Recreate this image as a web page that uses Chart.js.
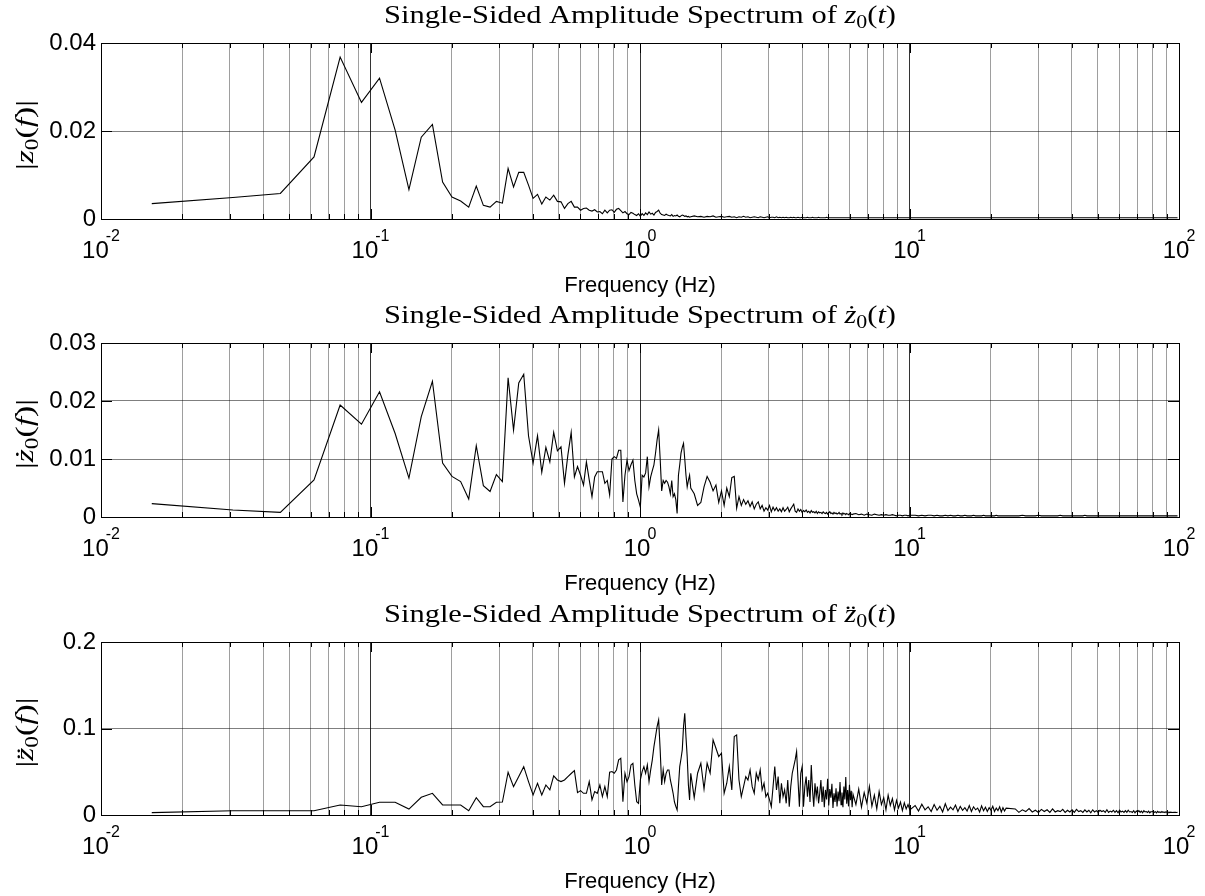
<!DOCTYPE html>
<html>
<head>
<meta charset="utf-8">
<script src="https://cdn.jsdelivr.net/npm/chart.js@4.4.0/dist/chart.umd.min.js"></script>
<style>
  html, body { margin: 0; padding: 0; background: #fff; }
  .panel { position: absolute; left: 0; width: 1205px; height: 299px; }
</style>
</head>
<body>
<div class="panel" style="top:0px"><canvas id="spec0" width="1205" height="299"></canvas></div>
<div class="panel" style="top:299px"><canvas id="spec1" width="1205" height="299"></canvas></div>
<div class="panel" style="top:598px"><canvas id="spec2" width="1205" height="299"></canvas></div>
<script>
// FFT bin width in Hz; frequency of bin k is k*df
const df = 0.01543;
// blocks of bins: [first bin, bin step]; each amplitude array below has one list per block
const binBlocks = [[1, 1], [103, 3], [410, 10], [680, 20], [1600, 50]];

// amplitudes, in units of 1e-4
const zAmp = [
  [35, 49, 58, 141, 368, 265, 320, 202, 67, 186,
   215, 84, 50, 41, 27, 75, 31, 27, 40, 36,
   115, 73, 106, 106, 77, 47, 56, 34, 50, 43,
   54, 40, 39, 24, 35, 40, 27, 27, 20, 24,
   25, 20, 18, 21, 16, 17, 12, 20, 14, 20,
   21, 15, 22, 24, 19, 14, 17, 12, 10, 15,
   13, 10, 8, 12, 6, 12, 8, 14, 10, 16,
   11, 13, 9, 15, 17, 20, 13, 10, 9, 8,
   11, 9, 8, 7, 10, 6, 8, 7, 9, 6,
   5, 7, 9, 8, 6, 7, 5, 6, 4, 5],
  [7, 5, 6, 4, 6, 5, 7, 4, 5, 6,
   4, 5, 6, 4, 5, 3, 5, 4, 6, 4,
   5, 3, 4, 5, 4, 3, 5, 4, 3, 4,
   5, 3, 4, 4, 3, 5, 3, 4, 3, 4,
   3, 4, 3, 3, 4, 3, 4, 3, 3, 4,
   3, 3, 4, 3, 3, 3, 4, 3, 3, 3,
   4, 3, 3, 3, 3, 4, 3, 3, 3, 3,
   3, 3, 4, 3, 3, 3, 3, 3, 3, 3,
   3, 3, 3, 3, 3, 3, 3, 3, 3, 3,
   3, 3, 3, 3, 3, 3, 3, 3, 3, 3],
  [3, 3, 3, 3, 3, 3, 3, 3, 3, 3, 3, 3, 3, 3, 3, 3, 3, 3, 3, 3, 3, 3, 3, 3, 3],
  [3, 3, 3, 3, 3, 3, 3, 3, 3, 3, 3, 3, 3, 3, 3, 3, 3, 3, 3, 3,
   3, 3, 3, 3, 3, 3, 3, 3, 3, 3, 3, 3, 3, 3, 3, 3, 3, 3, 3, 3, 3],
  [3, 3, 3, 3, 3, 3, 3, 3, 3, 3, 3, 3, 3, 3, 3, 3, 3, 3, 3, 3,
   3, 3, 3, 3, 3, 3, 3, 3, 3, 3, 3, 3, 3, 3, 3, 3, 3, 3, 3, 3,
   3, 3, 3, 3, 3, 3, 3, 3, 3, 3, 3, 3, 3, 3, 3, 3, 3, 3, 3, 3,
   3, 3, 3, 3, 3, 3, 3, 3, 3, 3, 3, 3, 3, 3, 3, 3, 3, 3, 3, 3,
   3, 3, 3, 3, 3, 3, 3, 3, 3, 3, 3, 3, 3, 3, 3, 3, 3]
];

const zdAmp = [
  [23, 12, 8, 64, 193, 160, 216, 144, 67, 173,
   234, 93, 70, 61, 31, 123, 54, 44, 73, 61,
   240, 150, 231, 246, 140, 93, 140, 77, 120, 95,
   146, 114, 121, 58, 107, 146, 69, 87, 72, 55,
   95, 64, 35, 69, 78, 78, 78, 58, 63, 38,
   100, 104, 101, 115, 115, 26, 72, 98, 80, 90,
   98, 63, 40, 29, 17, 72, 69, 76, 104, 52,
   69, 80, 90, 110, 133, 150, 100, 45, 63, 58,
   63, 60, 52, 40, 63, 35, 40, 30, 6, 72,
   90, 110, 120, 127, 100, 72, 52, 63, 72, 50],
  [40, 20, 25, 52, 70, 60, 45, 55, 25, 45,
   20, 50, 35, 68, 70, 15, 35, 20, 30, 22,
   28, 18, 26, 14, 22, 26, 14, 20, 10, 16,
   12, 20, 9, 17, 11, 16, 10, 14, 9, 16,
   10, 13, 17, 9, 14, 18, 22, 10, 8, 14,
   10, 13, 8, 11, 9, 12, 8, 10, 7, 11,
   8, 9, 7, 10, 6, 9, 7, 8, 6, 9,
   7, 6, 8, 5, 7, 9, 6, 7, 5, 8,
   6, 7, 5, 6, 8, 5, 6, 4, 7, 5,
   6, 4, 6, 5, 4, 6, 4, 5, 4, 5],
  [6, 4, 5, 3, 5, 4, 3, 5, 4, 3, 4, 3, 4, 3, 3, 4, 3, 2, 3, 3, 2, 3, 3, 2, 3],
  [3, 2, 3, 2, 3, 3, 2, 3, 2, 2, 3, 2, 3, 2, 2, 3, 2, 2, 3, 2,
   2, 2, 3, 2, 2, 2, 2, 3, 2, 2, 2, 2, 2, 2, 3, 2, 2, 2, 2, 2, 2],
  [2, 2, 3, 2, 2, 2, 2, 3, 2, 2, 2, 2, 2, 2, 2, 3, 2, 2, 2, 2,
   2, 2, 2, 2, 2, 2, 3, 2, 2, 2, 2, 2, 2, 2, 2, 2, 2, 2, 2, 2,
   2, 2, 2, 2, 2, 2, 2, 2, 2, 2, 2, 2, 2, 2, 2, 2, 2, 2, 2, 2,
   2, 2, 2, 2, 2, 2, 2, 2, 2, 2, 2, 2, 2, 2, 2, 2, 2, 2, 2, 2,
   2, 2, 2, 2, 2, 2, 2, 2, 2, 2, 2, 2, 2, 2, 2, 2, 2]
];

const zddAmp = [
  [27, 50, 50, 50, 116, 96, 147, 147, 69, 205,
   251, 116, 116, 116, 50, 201, 96, 96, 147, 150,
   494, 328, 444, 559, 386, 232, 367, 232, 347, 290,
   452, 405, 386, 405, 444, 480, 513, 259, 282, 251,
   251, 386, 174, 270, 251, 347, 212, 328, 212, 494,
   502, 482, 521, 637, 656, 154, 482, 386, 444, 579,
   598, 347, 154, 135, 405, 502, 559, 482, 579, 386,
   521, 637, 791, 907, 1023, 1100, 753, 347, 521, 386,
   482, 521, 521, 405, 330, 251, 150, 100, 58, 328,
   559, 650, 753, 1023, 1177, 900, 675, 347, 174, 482],
  [200, 483, 598, 300, 598, 483, 869, 772, 676, 714,
   251, 367, 560, 290, 907, 926, 405, 212, 328, 444,
   405, 521, 328, 251, 483, 405, 521, 290, 367, 212,
   251, 174, 96, 328, 560, 290, 444, 135, 367, 212,
   290, 135, 405, 96, 328, 483, 560, 637, 733, 405,
   96, 483, 560, 96, 328, 444, 212, 405, 150, 579,
   290, 96, 367, 212, 328, 135, 251, 405, 150, 330,
   90, 290, 180, 420, 110, 300, 200, 360, 80, 250,
   150, 310, 100, 270, 160, 380, 120, 260, 90, 330,
   180, 440, 130, 290, 100, 350, 170, 280, 90, 240],
  [120, 300, 90, 260, 140, 330, 100, 230, 70, 270, 120, 200, 60, 230, 110, 190, 60, 170, 80, 150, 50, 140, 70, 120, 60],
  [110, 45, 125, 60, 95, 40, 120, 55, 100, 35, 130, 50, 90, 60, 115, 40, 100, 55, 85, 45,
   110, 40, 95, 60, 80, 35, 105, 50, 90, 40, 85, 55, 100, 40, 80, 50, 95, 35, 85, 45, 80],
  [70, 30, 60, 40, 75, 35, 55, 30, 65, 40,
   60, 30, 70, 35, 50, 40, 65, 30, 55, 35,
   60, 30, 65, 40, 50, 30, 60, 35, 55, 25,
   60, 35, 50, 30, 55, 40, 50, 30, 60, 30,
   45, 35, 55, 30, 50, 25, 55, 35, 45, 30,
   50, 30, 55, 35, 40, 30, 50, 25, 45, 35,
   50, 30, 45, 25, 50, 35, 40, 30, 45, 25,
   40, 35, 45, 30, 38, 25, 42, 30, 36, 28,
   40, 30, 35, 27, 38, 30, 34, 28, 33, 30,
   32, 29, 31, 30, 30, 29, 30]
];

const yMaxes = [0.04, 0.03, 0.2];
const ySteps = [0.02, 0.01, 0.1];
const decadeExps = [-2, -1, 0, 1, 2];

const SERIF = '"Liberation Serif", "Times New Roman", serif';
const SANS = '"Liberation Sans", Arial, sans-serif';

function toPoints(blocks) {
  const pts = [];
  blocks.forEach((vals, b) => {
    const [k0, step] = binBlocks[b];
    vals.forEach((v, i) => pts.push({ x: (k0 + i * step) * df, y: v * 1e-4 }));
  });
  return pts;
}

// log grid: 1..9 x each decade, like matlab's minor grid
const xGrid = [];
decadeExps.slice(0, -1).forEach(e => {
  for (let m = 1; m < 10; m++) xGrid.push(+(m * Math.pow(10, e)).toPrecision(3));
});
xGrid.push(100);
const isDecade = v => Math.abs(Math.log10(v) - Math.round(Math.log10(v))) < 1e-9;

// draw a row of text runs centred on x; optional width stretches it (latex fonts run wide)
function drawRuns(ctx, runs, x, y, width) {
  let w = 0;
  runs.forEach(r => { ctx.font = r[1]; w += ctx.measureText(r[0]).width; });
  const sx = width ? width / w : 1;
  ctx.save();
  ctx.translate(x, y);
  ctx.scale(sx, 1);
  let cx = -w / 2;
  runs.forEach(r => {
    ctx.font = r[1];
    ctx.fillText(r[0], cx, r[2] || 0);
    cx += ctx.measureText(r[0]).width;
  });
  ctx.restore();
}

function mathRuns(prefix, zChar, arg, size) {
  const runs = [];
  if (prefix) runs.push([prefix, `${size}px ${SERIF}`]);
  runs.push([zChar, `italic ${size}px ${SERIF}`]);
  runs.push(['0', `${Math.round(size * 0.7)}px ${SERIF}`, Math.round(size * 0.2)]);
  runs.push(['(', `${size}px ${SERIF}`]);
  runs.push([arg, `italic ${size}px ${SERIF}`]);
  runs.push([')', `${size}px ${SERIF}`]);
  return runs;
}

const matlabAxes = {
  id: 'matlabAxes',
  afterDraw(chart, args, opts) {
    const ctx = chart.ctx, a = chart.chartArea;
    const xs = chart.scales.x, ys = chart.scales.y;
    const px = v => Math.round(v) + 0.5;
    ctx.save();
    ctx.strokeStyle = '#000';
    ctx.lineWidth = 1;
    ctx.beginPath();
    xGrid.forEach(v => {
      const x = px(xs.getPixelForValue(v));
      const len = isDecade(v) ? 10 : 5;
      ctx.moveTo(x, a.top); ctx.lineTo(x, a.top + len);
      ctx.moveTo(x, a.bottom); ctx.lineTo(x, a.bottom - len);
    });
    ys.ticks.forEach(t => {
      const y = px(ys.getPixelForValue(t.value));
      ctx.moveTo(a.left, y); ctx.lineTo(a.left + 11, y);
      ctx.moveTo(a.right, y); ctx.lineTo(a.right - 11, y);
    });
    ctx.stroke();
    ctx.strokeRect(px(a.left), px(a.top), Math.round(a.right) - Math.round(a.left), Math.round(a.bottom) - Math.round(a.top));

    // decade labels 10^n
    ctx.fillStyle = '#000';
    ctx.textBaseline = 'alphabetic';
    ctx.textAlign = 'left';
    decadeExps.forEach(e => {
      const x = xs.getPixelForValue(Math.pow(10, e));
      ctx.font = `24px ${SANS}`;
      const w10 = ctx.measureText('10').width;
      ctx.font = `16px ${SANS}`;
      const wE = ctx.measureText(String(e)).width;
      const start = x - (w10 + wE - 3) / 2;
      ctx.font = `24px ${SANS}`;
      ctx.fillText('10', start, a.bottom + 39);
      ctx.font = `16px ${SANS}`;
      ctx.fillText(String(e), start + w10 - 3, a.bottom + 22);
    });

    // axis label, title, y label
    const cx = (a.left + a.right) / 2;
    drawRuns(ctx, [['Frequency (Hz)', `22px ${SANS}`]], cx, a.bottom + 73);
    drawRuns(ctx, opts.titleRuns, cx, a.top - 20, 512);
    ctx.translate(33, (a.top + a.bottom) / 2 + 4);
    ctx.rotate(-Math.PI / 2);
    drawRuns(ctx, opts.ylabelRuns, 0, 0, 70);
    ctx.restore();
  }
};

function makePanel(id, blocks, idx, zChar, area) {
  const yMax = yMaxes[idx], yStep = ySteps[idx];
  return new Chart(document.getElementById(id), {
    type: 'line',
    data: {
      datasets: [{
        data: toPoints(blocks),
        borderColor: '#000',
        borderWidth: 1.1,
        pointRadius: 0,
        tension: 0,
        fill: false
      }]
    },
    options: {
      responsive: false,
      animation: false,
      events: [],
      layout: { padding: { left: 0, right: 26, top: area[0], bottom: 299 - area[1] } },
      plugins: {
        legend: { display: false },
        tooltip: { enabled: false },
        matlabAxes: {
          titleRuns: mathRuns('Single-Sided Amplitude Spectrum of ', zChar, 't', 25),
          ylabelRuns: [['|', `26px ${SERIF}`]].concat(mathRuns('', zChar, 'f', 26), [['|', `26px ${SERIF}`]])
        }
      },
      scales: {
        x: {
          type: 'logarithmic',
          min: 0.01,
          max: 100,
          afterBuildTicks: s => { s.ticks = xGrid.map(v => ({ value: v })); },
          afterFit: s => { s.height = 0; },
          ticks: { display: false },
          border: { display: false },
          grid: {
            drawTicks: false,
            lineWidth: 1,
            color: c => (c.tick && isDecade(c.tick.value)) ? 'rgba(0,0,0,0.8)' : 'rgba(0,0,0,0.38)'
          }
        },
        y: {
          min: 0,
          max: yMax,
          afterFit: s => { s.width = 101; },
          ticks: {
            stepSize: yStep,
            padding: 5,
            color: '#000',
            font: { family: SANS, size: 24 },
            callback: v => String(+v.toFixed(3))
          },
          border: { display: false },
          grid: { drawTicks: false, lineWidth: 1, color: 'rgba(0,0,0,0.5)' }
        }
      }
    },
    plugins: [matlabAxes]
  });
}

makePanel('spec0', zAmp, 0, 'z', [43, 219]);
makePanel('spec1', zdAmp, 1, '\u017C', [44, 218]);
makePanel('spec2', zddAmp, 2, 'z\u0308', [44, 217]);
</script>
</body>
</html>
